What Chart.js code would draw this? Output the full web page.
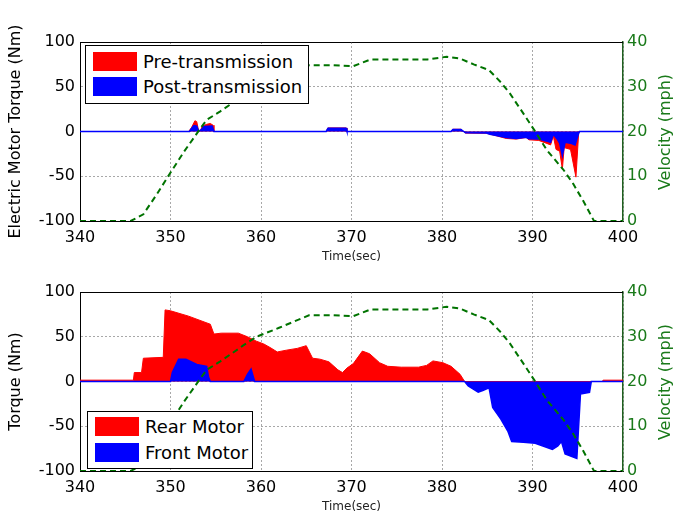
<!DOCTYPE html>
<html>
<head>
<meta charset="utf-8">
<script src="https://cdn.jsdelivr.net/npm/chart.js@4.4.1/dist/chart.umd.min.js"></script>
<style>
  body { margin: 0; background: #fff; }
  #wrap { position: relative; width: 676px; height: 514px; overflow: hidden; background: #fff; }
  canvas { position: absolute; left: 0; }
  .legend { position: absolute; background: #fff; border: 1px solid #000; font-family: "DejaVu Sans", sans-serif; font-size: 18px; color: #000; }
  .legend .row { position: absolute; left: 7px; height: 20px; line-height: 20px; white-space: nowrap; }
  .legend .sw { display: inline-block; width: 44px; height: 19px; vertical-align: top; margin-right: 6px; }
  .rtitle { position: absolute; font-family: "DejaVu Sans", sans-serif; font-size: 16px; color: #1a7a1a; white-space: nowrap; transform: translate(-50%, -50%) rotate(-90deg); }
</style>
</head>
<body>
<div id="wrap">
  <canvas id="topChart" width="676" height="266" style="top:0"></canvas>
  <canvas id="bottomChart" width="676" height="266" style="top:250px"></canvas>

  <div class="legend" style="left:85px; top:45px; width:222px; height:57px;">
    <div class="row" style="top:6px"><span class="sw" style="background:#ff0000"></span>Pre-transmission</div>
    <div class="row" style="top:31px"><span class="sw" style="background:#0000ff"></span>Post-transmission</div>
  </div>
  <div class="legend" style="left:87px; top:411px; width:164px; height:56px;">
    <div class="row" style="top:5px"><span class="sw" style="background:#ff0000"></span>Rear Motor</div>
    <div class="row" style="top:31px"><span class="sw" style="background:#0000ff"></span>Front Motor</div>
  </div>
  <div class="rtitle" style="left:664px; top:132px;">Velocity (mph)</div>
  <div class="rtitle" style="left:664px; top:382px;">Velocity (mph)</div>
</div>

<script>
// velocity (mph), same trace in both panels
const velTime = [340, 345.6, 347.0, 348.5, 349.9, 351.5, 353.2, 354.0, 355.5, 356.8, 358.0, 359.5, 362.0, 365.3, 368.0, 370.2, 372.1, 375.0, 378.4, 380.5, 382.0, 383.5, 385.2, 386.5, 387.5, 389.0, 390.2, 391.6, 393.4, 394.5, 395.6, 396.8, 400];
const velocity = [0, 0, 1.5, 6, 10.5, 15.5, 20.4, 22.6, 24.5, 26.3, 28, 30, 32, 34.8, 34.8, 34.6, 36.1, 36.1, 36.1, 36.7, 36.3, 35, 33.7, 31, 28.5, 24, 20.3, 15.8, 11.5, 8.3, 4.5, 0, 0];

// top panel: electric motor torque (Nm)
const preTime = [340, 352.0, 352.3, 352.7, 352.9, 353.1, 353.3, 353.5, 354.0, 354.4, 354.7, 354.8, 367.2, 367.4, 369.4, 369.5, 381.0, 381.2, 382.1, 382.4, 382.6, 384.9, 385.3, 386.0, 387.1, 388.2, 389.3, 389.6, 390.7, 391.5, 392.0, 392.3, 392.6, 393.0, 393.3, 393.5, 394.2, 394.8, 395.1, 395.2, 400];
const preTorque = [0, 0, 4, 12, 11, 1, 0.5, 6, 8, 9, 7, 0, 0, 4, 4, 0, 0, 2.5, 2.5, 0, -1.8, -2, -3, -4.8, -7.8, -8.5, -6.7, -9.3, -10, -13, -15, -5, -20, -22, -42, -18, -20, -51, -2, 0, 0];

const postTime = [340, 352.1, 352.3, 352.6, 352.9, 353.1, 353.4, 353.7, 354.6, 354.8, 367.2, 367.4, 369.4, 369.5, 381.0, 381.2, 382.1, 382.4, 382.6, 384.9, 385.3, 386.0, 387.1, 388.2, 389.3, 389.6, 390.7, 391.5, 392.0, 392.3, 392.7, 393.0, 393.3, 393.6, 394.2, 394.7, 395.1, 395.2, 400];
const postTorque = [0, 0, 3, 6.5, 6, 0.5, 2, 5.5, 6, 0, 0, 3.5, 3.5, 0, 0, 2.2, 2.2, 0, -1.5, -1.8, -3, -4.5, -6.7, -7.8, -6.5, -8, -8.5, -10.5, -12, -3, -8, -13, -27, -12, -13, -15, -2, 0, 0];

// bottom panel: torque per motor (Nm)
const rearTime = [340, 345.9, 346.0, 346.8, 347.0, 349.2, 349.4, 350.0, 352.0, 354.4, 354.8, 355.6, 357.5, 358.5, 359.5, 360.3, 361.0, 361.8, 362.8, 364.0, 365.0, 365.7, 366.5, 367.5, 368.5, 369.0, 369.5, 370.2, 371.2, 372.0, 373.1, 374.0, 375.5, 377.4, 378.3, 379.0, 380.1, 381.0, 382.0, 382.5, 397.7, 397.8, 400];
const rearTorque = [1.5, 1.5, 10, 10, 26, 27, 80, 79, 73, 64, 53, 54, 54, 50, 45, 42, 38, 33, 35, 37, 40, 26, 25, 22, 13, 10, 15, 20, 34, 31, 21, 17, 16, 16, 18, 23, 21, 17, 8, 0, 0, 1.5, 1.5];

const frontTime = [340, 350.0, 350.2, 350.9, 351.7, 352.9, 354.0, 354.2, 354.4, 358.1, 358.5, 358.9, 359.3, 382.5, 382.9, 384.0, 384.5, 385.2, 385.6, 386.5, 387.3, 387.7, 389.0, 390.3, 392.2, 392.8, 393.2, 393.6, 394.9, 395.3, 396.3, 396.5, 400];
const frontTorque = [0, 0, 10, 25, 25, 19, 17, 5, 0, 0, 8, 14, 0, 0, -5, -12, -10, -7, -29, -42, -56, -67, -68, -69, -76, -72, -67, -81, -86, -14, -12, 0, 0];

const xTicks = [340, 350, 360, 370, 380, 390, 400];

const GREEN = "#007300";
const GREEN_TEXT = "#1a7a1a";

Chart.defaults.font.family = "'DejaVu Sans', sans-serif";

function pairs(xs, ys) {
  return xs.map((x, i) => ({ x: x, y: ys[i] }));
}

// top border of the box, MATLAB style
const frameTop = {
  id: "frameTop",
  afterDraw: (chart) => {
    const { ctx, chartArea } = chart;
    ctx.save();
    ctx.strokeStyle = "#000";
    ctx.lineWidth = 1;
    ctx.beginPath();
    ctx.moveTo(chartArea.left, chartArea.top + 0.5);
    ctx.lineTo(chartArea.right, chartArea.top + 0.5);
    ctx.stroke();
    ctx.restore();
  },
};

function makeChart(canvasId, leftTitle, redLabel, redT, redV, blueLabel, blueT, blueV) {
  return new Chart(document.getElementById(canvasId), {
    type: "line",
    data: {
      datasets: [
        {
          label: "Velocity",
          data: pairs(velTime, velocity),
          yAxisID: "y1",
          borderColor: GREEN,
          borderWidth: 2,
          borderDash: [6, 4],
          fill: false,
          pointRadius: 0,
          tension: 0,
          order: 0,
        },
        {
          label: blueLabel,
          data: pairs(blueT, blueV),
          yAxisID: "y",
          borderColor: "#0000ff",
          backgroundColor: "#0000ff",
          borderWidth: 1.5,
          fill: "origin",
          pointRadius: 0,
          tension: 0,
          order: 1,
        },
        {
          label: redLabel,
          data: pairs(redT, redV),
          yAxisID: "y",
          borderColor: "#ff0000",
          backgroundColor: "#ff0000",
          borderWidth: 1,
          fill: "origin",
          pointRadius: 0,
          tension: 0,
          order: 2,
        },
      ],
    },
    plugins: [frameTop],
    options: {
      responsive: false,
      animation: false,
      layout: { padding: { top: 42, left: 0, right: 0, bottom: 0 } },
      plugins: {
        legend: { display: false },
        tooltip: { enabled: false },
      },
      scales: {
        x: {
          type: "linear",
          min: 340,
          max: 400,
          afterBuildTicks: (scale) => {
            scale.ticks = xTicks.map((v) => ({ value: v }));
          },
          afterFit: (scale) => { scale.height = 45; },
          ticks: {
            color: "#000",
            font: { size: 16 },
            padding: 7,
            maxRotation: 0,
          },
          grid: { color: "#a8a8a8", drawTicks: false },
          border: { color: "#000", width: 1, dash: [2, 2] },
          title: {
            display: true,
            text: "Time(sec)",
            color: "#222",
            font: { size: 12 },
            padding: { top: 0, bottom: 2 },
          },
        },
        y: {
          position: "left",
          min: -100,
          max: 100,
          ticks: { stepSize: 50, color: "#000", font: { size: 16 }, padding: 5 },
          afterFit: (scale) => { scale.width = 80; },
          grid: { color: "#a8a8a8", drawTicks: false },
          border: { color: "#000", width: 1, dash: [2, 2] },
          title: {
            display: true,
            text: leftTitle,
            color: "#000",
            font: { size: 16 },
            padding: { top: 6, bottom: 0 },
          },
        },
        y1: {
          position: "right",
          min: 0,
          max: 40,
          ticks: { stepSize: 10, color: GREEN_TEXT, font: { size: 16 }, padding: 4 },
          afterFit: (scale) => { scale.width = 53; },
          grid: { drawOnChartArea: false, drawTicks: false },
          border: { color: "#1f5f1f", width: 1.5 },
        },
      },
    },
  });
}

makeChart("topChart", "Electric Motor Torque (Nm)", "Pre-transmission", preTime, preTorque, "Post-transmission", postTime, postTorque);
makeChart("bottomChart", "Torque (Nm)", "Rear Motor", rearTime, rearTorque, "Front Motor", frontTime, frontTorque);
</script>
</body>
</html>
